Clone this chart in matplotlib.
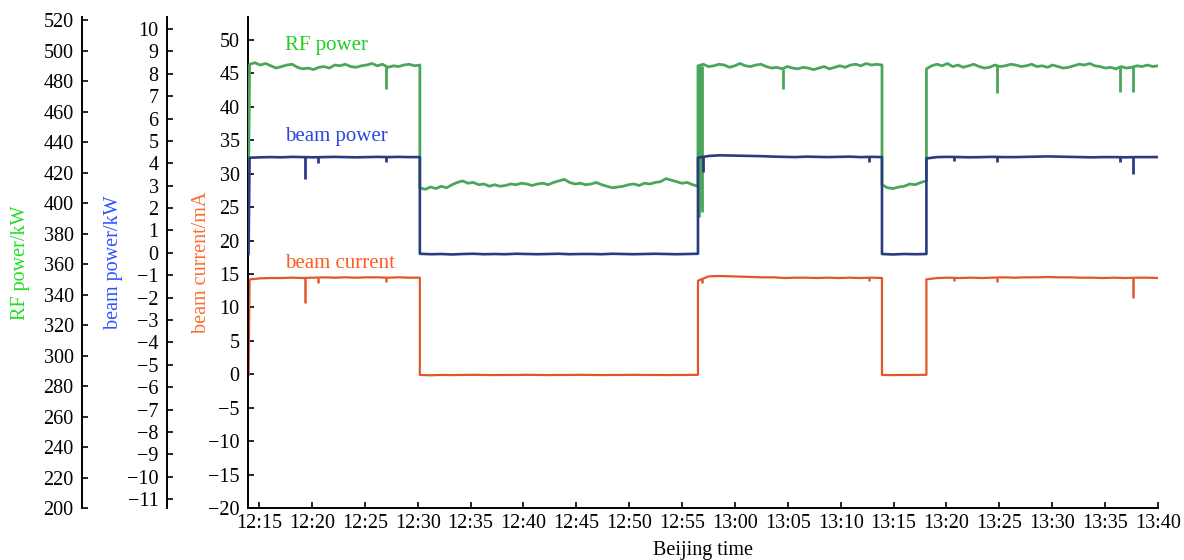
import numpy as np
import matplotlib.pyplot as plt

plt.rcParams['font.family'] = ['Liberation Serif', 'DejaVu Serif']
plt.rcParams['axes.unicode_minus'] = True

# minutes after 12:15, switching instants of the beam (on/off)
seg_edges = [-0.9, 15.2, 41.5, 58.9, 63.1, 85.0]
t_start = -1.0

# RF power / kW, one list per segment (on, off, on, off, on)
rf_pre = 411
rf_on1 = [491, 492, 490.5, 491.5, 490, 488.5, 489.5, 490.5, 491, 489, 488, 488.5, 487.5,
          489, 489.5, 488.5, 490.5, 490, 491, 489.5, 489, 490, 490.5, 491.5, 490, 491,
          489, 490, 489.5, 490.5, 491, 490, 490.5]
rf_off1 = [410, 409, 410.5, 409.5, 411, 410, 412, 413.5, 414.5, 413,
           413.5, 412, 412.5, 411, 412, 411, 411.5, 412.5, 412, 413,
           412.5, 411.5, 412.5, 413, 412, 413.5, 414.5, 415.5, 413.5, 412.5,
           413, 412, 412.5, 413.5, 412, 411, 410, 410.5, 411, 412,
           412.5, 411.5, 413, 412.5, 413.5, 414, 416, 415, 414, 413,
           413.5, 412, 411]
rf_on2 = [490, 491, 489.5, 490, 491, 490.5, 489, 490, 491.5, 490,
          489.5, 490.5, 491, 489.5, 488.5, 489, 488, 489.5, 488.5, 488,
          489, 488.5, 487.5, 488.5, 489.5, 488, 489, 490, 489, 490.5,
          491, 490, 491.5, 490.5, 491, 490.5]
rf_off2 = [412, 410, 409.5, 410.5, 411, 412.5, 412, 413.5, 414.5]
rf_on3 = [488, 490, 491, 490, 491.5, 489.5, 490.5, 489, 490, 491,
          489.5, 488.5, 489, 490.5, 489.5, 490, 491, 490.5, 489.5, 490,
          491, 489.5, 490, 489, 490.5, 489.5, 488.5, 489, 490, 491,
          490.5, 491.5, 490, 489.5, 488.5, 489, 488, 489.5, 488.5, 489,
          490, 489.5, 490.5, 489.5, 490]
rf_dip_t = [12.0, 49.5, 69.8, 81.4, 82.6]
rf_dip_v = [475, 475, 472, 473, 473]
rf_spike_t = [41.6, 41.75, 41.9]
rf_spike_v = [391, 398, 394]

# beam power / kW
bp_pre = -0.05
bp_on1 = [4.25, 4.27, 4.28, 4.27, 4.29, 4.28, 4.27, 4.28, 4.29, 4.28, 4.27, 4.28,
          4.29, 4.28, 4.29, 4.28, 4.28]
bp_off1 = [-0.04, -0.06, -0.05, -0.07, -0.05, -0.04, -0.06, -0.05, -0.06, -0.04,
           -0.05, -0.06, -0.05, -0.04, -0.06, -0.05, -0.05, -0.06, -0.04, -0.05,
           -0.06, -0.05, -0.04, -0.05, -0.06, -0.05, -0.04]
bp_on2 = [4.25, 4.33, 4.36, 4.35, 4.34, 4.33, 4.32, 4.30, 4.29, 4.28, 4.30, 4.29,
          4.28, 4.29, 4.30, 4.28, 4.29, 4.28]
bp_off2 = [-0.05, -0.07, -0.05, -0.06, -0.05]
bp_on3 = [4.22, 4.28, 4.29, 4.28, 4.27, 4.28, 4.29, 4.28, 4.28, 4.29, 4.30, 4.31,
          4.30, 4.29, 4.28, 4.27, 4.28, 4.28, 4.27, 4.28, 4.28, 4.28]
bp_dip_t = [4.35, 5.6, 12.0, 42.0, 57.7, 65.7, 69.8, 81.4, 82.6]
bp_dip_v = [3.3, 4.0, 4.06, 3.6, 4.05, 4.1, 4.05, 4.05, 3.52]

# beam current / mA
bc_pre = -0.1
bc_on1 = [14.2, 14.35, 14.4, 14.4, 14.45, 14.4, 14.45, 14.5, 14.45, 14.5, 14.45,
          14.5, 14.5, 14.45, 14.5, 14.45, 14.45]
bc_off1 = [-0.1, -0.15, -0.1, -0.12, -0.1, -0.08, -0.1, -0.12, -0.1, -0.1,
           -0.08, -0.1, -0.12, -0.1, -0.1, -0.08, -0.1, -0.12, -0.1, -0.1,
           -0.08, -0.1, -0.1, -0.12, -0.1, -0.1, -0.08]
bc_on2 = [14.0, 14.65, 14.7, 14.65, 14.6, 14.55, 14.5, 14.5, 14.4, 14.45, 14.45,
          14.4, 14.45, 14.4, 14.45, 14.4, 14.45, 14.4]
bc_off2 = [-0.1, -0.12, -0.1, -0.1, -0.08]
bc_on3 = [14.2, 14.4, 14.45, 14.4, 14.45, 14.4, 14.45, 14.5, 14.45, 14.5, 14.5,
          14.55, 14.5, 14.5, 14.45, 14.45, 14.4, 14.45, 14.4, 14.45, 14.45, 14.4]
bc_dip_t = [4.35, 5.6, 12.0, 41.9, 57.7, 65.7, 69.8, 82.6]
bc_dip_v = [10.7, 13.7, 13.8, 13.6, 13.9, 13.9, 13.8, 11.4]

xtick_min = list(range(0, 86, 5))
xtick_lab = ['12:15', '12:20', '12:25', '12:30', '12:35', '12:40', '12:45', '12:50',
             '12:55', '13:00', '13:05', '13:10', '13:15', '13:20', '13:25', '13:30',
             '13:35', '13:40']


def build(pre, segs):
    t = [t_start]
    v = [pre]
    for i, s in enumerate(segs):
        t += list(np.linspace(seg_edges[i], seg_edges[i + 1], len(s)))
        v += s
    return np.array(t), np.array(v)


t_rf, rf = build(rf_pre, [rf_on1, rf_off1, rf_on2, rf_off2, rf_on3])
t_bp, bp = build(bp_pre, [bp_on1, bp_off1, bp_on2, bp_off2, bp_on3])
t_bc, bc = build(bc_pre, [bc_on1, bc_off1, bc_on2, bc_off2, bc_on3])

c_rf, c_bp, c_bc = '#4ba55a', '#2b3b80', '#e0582a'
fs = 14.5

fig = plt.figure(figsize=(11.84, 5.6), dpi=100)
ax = fig.add_axes([248 / 1184, 52 / 560, 910 / 1184, 491 / 560])
ax_rf = ax.twinx()
ax_bp = ax.twinx()

# beam current on the main axis
ax.plot(t_bc, bc, color=c_bc, lw=1.6)
ax.vlines(bc_dip_t, bc_dip_v, np.interp(bc_dip_t, t_bc, bc), color=c_bc, lw=1.8)
ax.set_xlim(-1.05, 85)
ax.set_ylim(-20, 53.44)
ax.set_yticks(range(-20, 51, 5))
ax.set_xticks(xtick_min)
ax.set_xticklabels(xtick_lab)
ax.set_xlabel('Beijing time', fontsize=fs, labelpad=6)
ax.set_ylabel('beam current/mA', color='#ff6a30', fontsize=fs)
ax.yaxis.set_label_coords(-0.041, 0.5)

ax_rf.plot(t_rf, rf, color=c_rf, lw=2.0)
ax_rf.vlines(rf_dip_t, rf_dip_v, np.interp(rf_dip_t, t_rf, rf), color=c_rf, lw=2)
ax_rf.vlines(rf_spike_t, rf_spike_v, 490, color=c_rf, lw=2)
ax_rf.set_ylim(200, 522)
ax_rf.set_yticks(range(200, 521, 20))
ax_rf.set_ylabel('RF power/kW', color='#22dd22', fontsize=fs)

ax_bp.plot(t_bp, bp, color=c_bp, lw=1.9)
ax_bp.vlines(bp_dip_t, bp_dip_v, np.interp(bp_dip_t, t_bp, bp), color=c_bp, lw=2)
ax_bp.set_ylim(-11.40, 10.54)
ax_bp.set_yticks(range(-11, 11))
ax_bp.set_ylabel('beam power/kW', color='#3050ff', fontsize=fs)

for a, pos in ((ax_rf, -0.1824), (ax_bp, -0.089)):
    a.yaxis.tick_left()
    a.yaxis.set_label_position('left')
    a.spines['left'].set_position(('axes', pos))
    a.spines['left'].set_visible(True)
    for s in ('right', 'top', 'bottom'):
        a.spines[s].set_visible(False)
    a.get_xaxis().set_visible(False)
ax_rf.yaxis.set_label_coords(-0.24, 0.5)
ax_bp.yaxis.set_label_coords(-0.137, 0.5)

ax.spines['top'].set_visible(False)
ax.spines['right'].set_visible(False)
for a in (ax, ax_rf, ax_bp):
    a.spines['left'].set_linewidth(1.4)
    a.tick_params(axis='y', direction='in', length=4, width=1.2, pad=6, labelsize=fs)
ax.spines['bottom'].set_linewidth(1.4)
ax.tick_params(axis='x', direction='in', length=4, width=1.2, pad=4, labelsize=fs)

ax.text(2.45, 49.25, 'RF power', color='#22cc22', fontsize=fs + 0.5, va='center')
ax.text(2.45, 35.5, 'beam power', color='#2a45e0', fontsize=fs + 0.5, va='center')
ax.text(2.45, 16.6, 'beam current', color='#ff5a22', fontsize=fs + 0.5, va='center')

fig.savefig('out.png', dpi=100)
